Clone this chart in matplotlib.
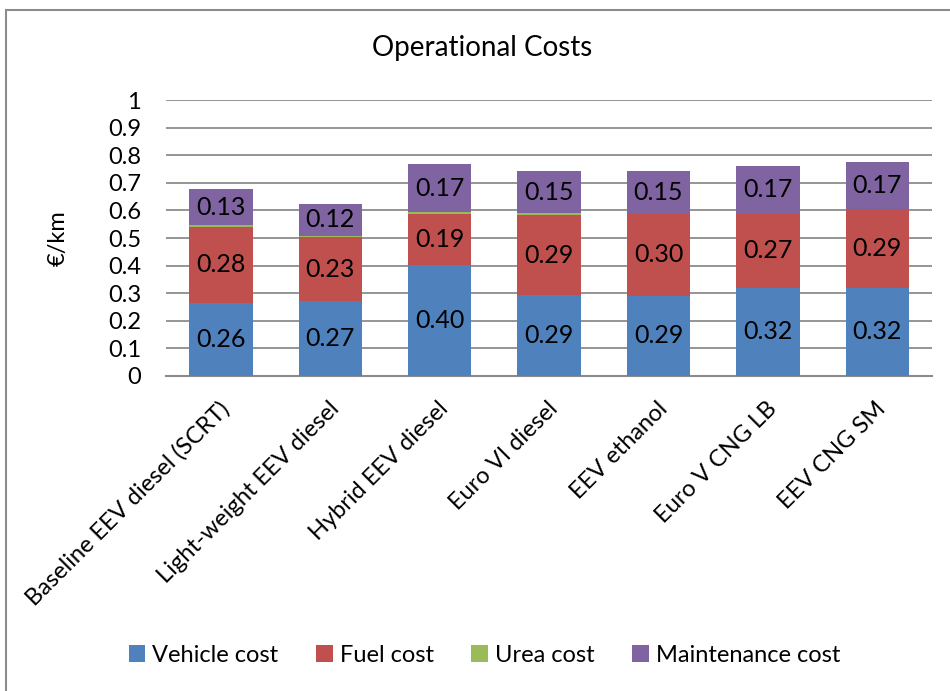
import numpy as np
import matplotlib
matplotlib.use("Agg")
from matplotlib import pyplot as plt
from matplotlib.patches import Rectangle
from matplotlib.transforms import ScaledTranslation

# Data
categories = ['Baseline EEV diesel (SCRT)', 'Light-weight EEV diesel', 'Hybrid EEV diesel',
              'Euro VI diesel', 'EEV ethanol', 'Euro V CNG LB', 'EEV CNG SM']
vehicle_cost = [0.264, 0.271, 0.401, 0.294, 0.291, 0.320, 0.320]
fuel_cost = [0.277, 0.231, 0.187, 0.288, 0.297, 0.268, 0.286]
urea_cost = [0.005, 0.005, 0.005, 0.008, 0.0, 0.0, 0.0]
maint_cost = [0.131, 0.117, 0.174, 0.154, 0.154, 0.174, 0.170]
series_names = ['Vehicle cost', 'Fuel cost', 'Urea cost', 'Maintenance cost']
colors = ['#4F81BD', '#C0504D', '#9BBB59', '#8064A2']

plt.rcParams['font.family'] = ['Lato', 'DejaVu Sans']

fig = plt.figure(figsize=(9.5, 6.91), dpi=100)
ax = fig.add_axes([0.175, 0.456, 0.806, 0.399])

x = np.arange(len(categories))
bottom = np.zeros(len(categories))
for name, vals, c in zip(series_names, [vehicle_cost, fuel_cost, urea_cost, maint_cost], colors):
    vals = np.array(vals)
    ax.bar(x, vals, 0.58, bottom=bottom, color=c, label=name, zorder=3)
    if name != 'Urea cost':
        for xi, b, v in zip(x, bottom, vals):
            ax.text(xi, b + v / 2, f'{v:.2f}', ha='center', va='center', fontsize=18, zorder=4)
    bottom += vals

ax.set_xlim(-0.5, len(categories) - 0.5)
ax.set_ylim(0, 1)
ax.set_yticks(np.arange(0, 1.01, 0.1))
ax.set_yticklabels(['0'] + [f'{v:.1f}' for v in np.arange(0.1, 0.95, 0.1)] + ['1'])
ax.yaxis.grid(True, color='#8C8C8C', linewidth=1.3, zorder=0)
ax.tick_params(axis='y', length=0, labelsize=17, pad=18)
ax.tick_params(axis='x', length=0)
for s in ['top', 'right', 'left']:
    ax.spines[s].set_visible(False)
ax.spines['bottom'].set_color('#8C8C8C')
ax.spines['bottom'].set_linewidth(1.5)

ax.set_xticks(x)
ax.set_xticklabels(categories, rotation=45, ha='right', rotation_mode='anchor', fontsize=17)
offset = ScaledTranslation(-0.02, -0.17, fig.dpi_scale_trans)
for lab in ax.get_xticklabels():
    lab.set_transform(lab.get_transform() + offset)

ax.set_ylabel('€/km', fontsize=17, labelpad=28)
fig.text(0.508, 0.93, 'Operational Costs', ha='center', va='center', fontsize=20)

fig.legend(loc='center', bbox_to_anchor=(0.51, 0.052), ncol=4, frameon=False, fontsize=17,
           handlelength=0.7, handleheight=0.7, handletextpad=0.3, columnspacing=1.6)

fig.patches.append(Rectangle((0.006, -0.05), 1.2, 0.036 + 1.0, transform=fig.transFigure,
                             fill=False, edgecolor='#8C8C8C', linewidth=1.5))

fig.savefig('out.png', dpi=100)
